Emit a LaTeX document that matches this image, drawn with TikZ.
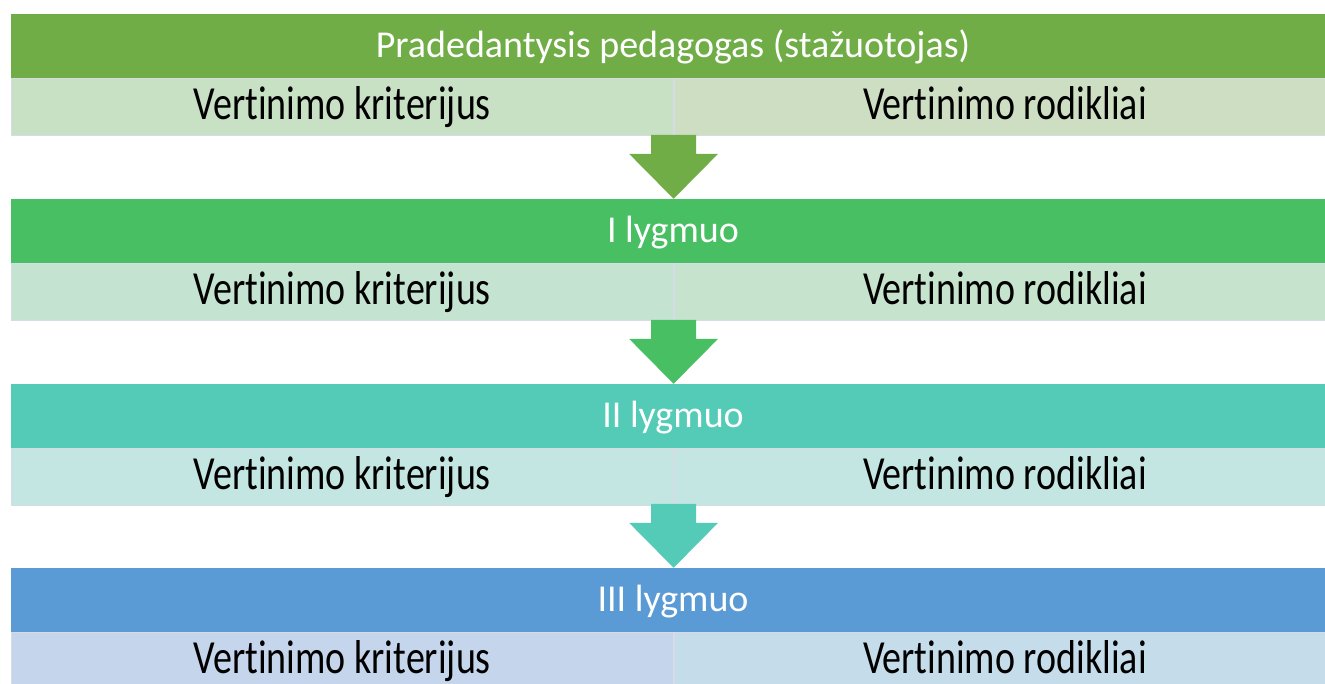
\documentclass[tikz,border=0pt]{standalone}
\usepackage{fontspec}
\setmainfont{Carlito}[Ligatures=NoCommon]
\usetikzlibrary{positioning}

\definecolor{lvlA}{HTML}{70AD47}
\definecolor{lvlB}{HTML}{48BF62}
\definecolor{lvlC}{HTML}{53CBB7}
\definecolor{lvlD}{HTML}{5B9BD5}
\definecolor{subAl}{HTML}{C8E0C3}
\definecolor{subAr}{HTML}{CEDEC3}
\definecolor{subBl}{HTML}{C5E3D1}
\definecolor{subBr}{HTML}{C6E3CD}
\definecolor{subCl}{HTML}{C3E6E2}
\definecolor{subCr}{HTML}{C4E6E2}
\definecolor{subDl}{HTML}{C5D5EC}
\definecolor{subDr}{HTML}{C5DDEB}
\definecolor{edge}{HTML}{D6DCE6}

\newcommand{\tall}[1]{\scalebox{1}[1.25]{#1}}

\tikzset{
  levelbar/.style={minimum width=1324pt,minimum height=64pt,inner sep=0pt,
    text height=44pt,text depth=20pt,
    text=white,font=\fontsize{38}{44}\selectfont},
  leftcell/.style={minimum width=662pt,minimum height=57pt,inner sep=0pt,
    text height=41pt,text depth=16pt,
    draw=edge,line width=0.8pt,font=\fontsize{38}{44}\selectfont},
  rightcell/.style={leftcell},
}

\begin{document}
\begin{tikzpicture}[x=1pt,y=1pt]
	\useasboundingbox (0,0) rectangle (1325,684);

	% pradedantysis
	\node[levelbar,fill=lvlA] (t0) at (673,638) {Pradedantysis pedagogas (stažuotojas)};
	\node[leftcell,fill=subAl,below right=0pt and 0pt of t0.south west] (k0) {\tall{Vertinimo kriterijus}};
	\node[rightcell,fill=subAr,right=0pt of k0] (r0) {\tall{Vertinimo rodikliai}};

	% I lygmuo
	\node[levelbar,fill=lvlB] (t1) at (673,453) {I lygmuo};
	\node[leftcell,fill=subBl,below right=0pt and 0pt of t1.south west] (k1) {\tall{Vertinimo kriterijus}};
	\node[rightcell,fill=subBr,right=0pt of k1] (r1) {\tall{Vertinimo rodikliai}};

	% II lygmuo
	\node[levelbar,fill=lvlC] (t2) at (673,268) {II lygmuo};
	\node[leftcell,fill=subCl,below right=0pt and 0pt of t2.south west] (k2) {\tall{Vertinimo kriterijus}};
	\node[rightcell,fill=subCr,right=0pt of k2] (r2) {\tall{Vertinimo rodikliai}};

	% III lygmuo
	\node[levelbar,fill=lvlD] (t3) at (673,84) {III lygmuo};
	\node[leftcell,fill=subDl,below right=0pt and 0pt of t3.south west] (k3) {\tall{Vertinimo kriterijus}};
	\node[rightcell,fill=subDr,right=0pt of k3] (r3) {\tall{Vertinimo rodikliai}};

	% rodyklės
	\fill[lvlA] (k0.south east |- t1.north) -- ++(-44.5,45) -- ++(22,0) -- ++(0,19) -- ++(45,0) -- ++(0,-19) -- ++(22,0) -- cycle;
	\fill[lvlB] (k1.south east |- t2.north) -- ++(-44.5,45) -- ++(22,0) -- ++(0,19) -- ++(45,0) -- ++(0,-19) -- ++(22,0) -- cycle;
	\fill[lvlC] (k2.south east |- t3.north) -- ++(-44.5,45) -- ++(22,0) -- ++(0,19) -- ++(45,0) -- ++(0,-19) -- ++(22,0) -- cycle;

\end{tikzpicture}
\end{document}
